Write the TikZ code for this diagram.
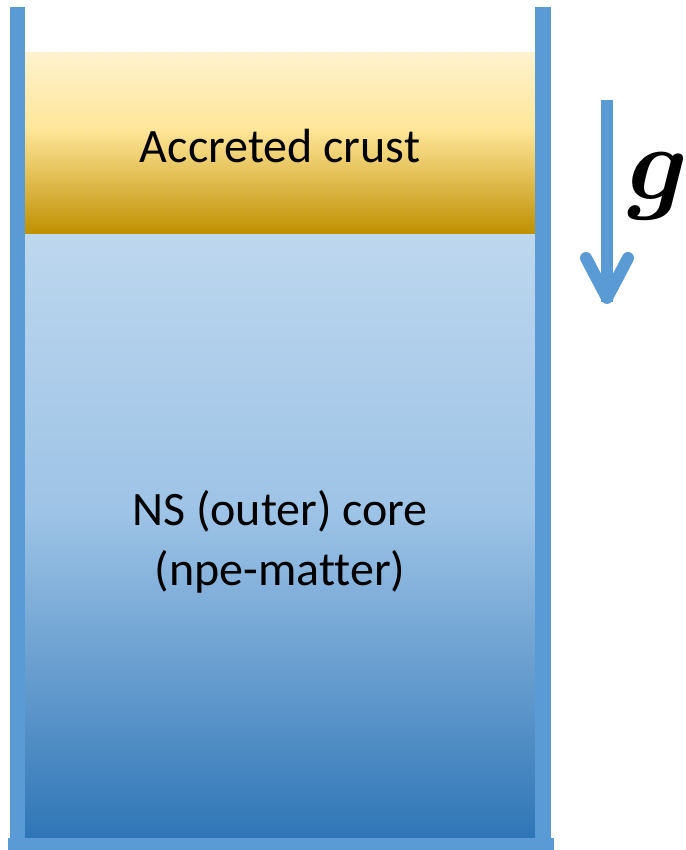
\documentclass[tikz,border=0pt]{standalone}
\usepackage{amsmath}
\usepackage{fontspec}
\setmainfont{Carlito}[Ligatures=NoCommon]
\usetikzlibrary{positioning}

\definecolor{wallblue}{RGB}{91,155,213}
\definecolor{crusttop}{RGB}{255,242,206}
\definecolor{crustmid}{RGB}{255,230,153}
\definecolor{crustbot}{RGB}{191,144,0}
\definecolor{coretop}{RGB}{189,215,238}
\definecolor{coremid}{RGB}{157,195,230}
\definecolor{corebot}{RGB}{46,117,182}

% the box of a path spans 25bp..75bp of a vertical shading
\pgfdeclareverticalshading{crustshade}{100bp}{color(0bp)=(crustbot); color(25bp)=(crustbot);
  color(54bp)=(crustmid); color(75bp)=(crusttop); color(100bp)=(crusttop)}
\pgfdeclareverticalshading{coreshade}{100bp}{color(0bp)=(corebot); color(25bp)=(corebot);
  color(52bp)=(coremid); color(75bp)=(coretop); color(100bp)=(coretop)}

\begin{document}
\begin{tikzpicture}[x=1pt, y=-1pt,
  wall/.style={fill=wallblue, draw=none},
  lbl/.style={font=\fontsize{48}{60}\selectfont, align=center, text=black},
  gline/.style={draw=wallblue, line width=12pt}]
  \useasboundingbox (0,0) rectangle (685,850);

  % layers inside the container
  \fill[shading=crustshade] (25,53) rectangle (535,234);
  \fill[shading=coreshade] (25,234) rectangle (535,842);

  % container walls
  \fill[wall] (10,7) rectangle (25,850);
  \fill[wall] (535,7) rectangle (551,850);
  \fill[wall] (8,838) rectangle (554,850);

  \node[lbl] (crust) at (280,146) {Accreted crust};
  \node[lbl] (core) at (280,542) {NS (outer) core\\(npe-matter)};

  % gravity arrow
  \coordinate (gtop) at (607,100);
  \coordinate (gtip) at (607,298);
  \draw[gline] (gtop) -- ([yshift=-4pt]gtip);
  \draw[gline, line cap=round, line join=round] ([shift={(-21,-40)}]gtip) -- (gtip) -- ([shift={(21,-40)}]gtip);
  \node[inner sep=0pt] (grav) at (658,186) {\scalebox{10.5}{$\boldsymbol{g}$}};
\end{tikzpicture}
\end{document}
